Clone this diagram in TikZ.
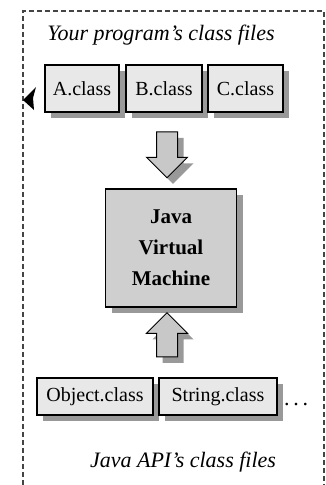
\documentclass[tikz,border=0pt]{standalone}
\usepackage{fontspec}
\setmainfont{Liberation Serif}
\usetikzlibrary{shapes.arrows,shadows}
\definecolor{filegray}{HTML}{E8E8E8}
\definecolor{jvmgray}{HTML}{CFCFCF}
\definecolor{arrowgray}{HTML}{C8C8C8}
\definecolor{shadegray}{HTML}{999999}
\definecolor{framegray}{HTML}{444444}
\begin{document}
\begin{tikzpicture}[x=1pt, y=-1pt,
    shade/.style={drop shadow={shadow xshift=6pt, shadow yshift=-6pt, fill=shadegray, opacity=1}},
    classfile/.style={rectangle, draw, line width=1.2pt, fill=filegray, inner sep=0pt, shade, font=\fontsize{20}{22}\selectfont},
    vm/.style={rectangle, draw, line width=1.2pt, fill=jvmgray, inner sep=0pt, shade, minimum width=131pt, minimum height=118pt, align=center, font=\fontsize{21}{31}\selectfont\bfseries},
    flow/.style={single arrow, draw, line width=1pt, fill=arrowgray, inner sep=10pt, shade, minimum height=46pt, single arrow head extend=10pt},
    caption/.style={font=\fontsize{22}{24}\selectfont\itshape}
]
    \useasboundingbox (0,0) rectangle (326,485);

    % dashed frame, open at the bottom
    \draw[framegray, line width=1.8pt, dash pattern=on 5pt off 3pt] (23,485) -- (23,11) -- (324,11) -- (324,485);
    \fill (23,100) -- (36,87) -- (33,98) -- (34,110) -- cycle;

    \node[caption] (mine) at (161,35) {Your program’s class files};

    \node[classfile, minimum width=74pt, minimum height=47pt] (aclass) at (82,88.5) {A.class};
    \node[classfile, minimum width=76pt, minimum height=47pt] (bclass) at (164,88.5) {B.class};
    \node[classfile, minimum width=75pt, minimum height=47pt] (cclass) at (245.5,88.5) {C.class};

    \node[flow, shape border rotate=270] (down) at (167,149.5) {};

    \node[vm] (jvm) at (171,248) {Java\\Virtual\\Machine};

    \node[flow, shape border rotate=90, minimum height=44pt] (up) at (167,340) {};

    \node[classfile, minimum width=116pt, minimum height=37pt] (objclass) at (95,396.5) {Object.class};
    \node[classfile, minimum width=118pt, minimum height=37pt] (strclass) at (218,396.5) {String.class};
    \node[font=\fontsize{22}{24}\selectfont, anchor=base west, inner sep=0pt] (more) at (284,405) {.\,.\,.};

    \node[caption] (api) at (183,462) {Java API’s class files};
\end{tikzpicture}
\end{document}
